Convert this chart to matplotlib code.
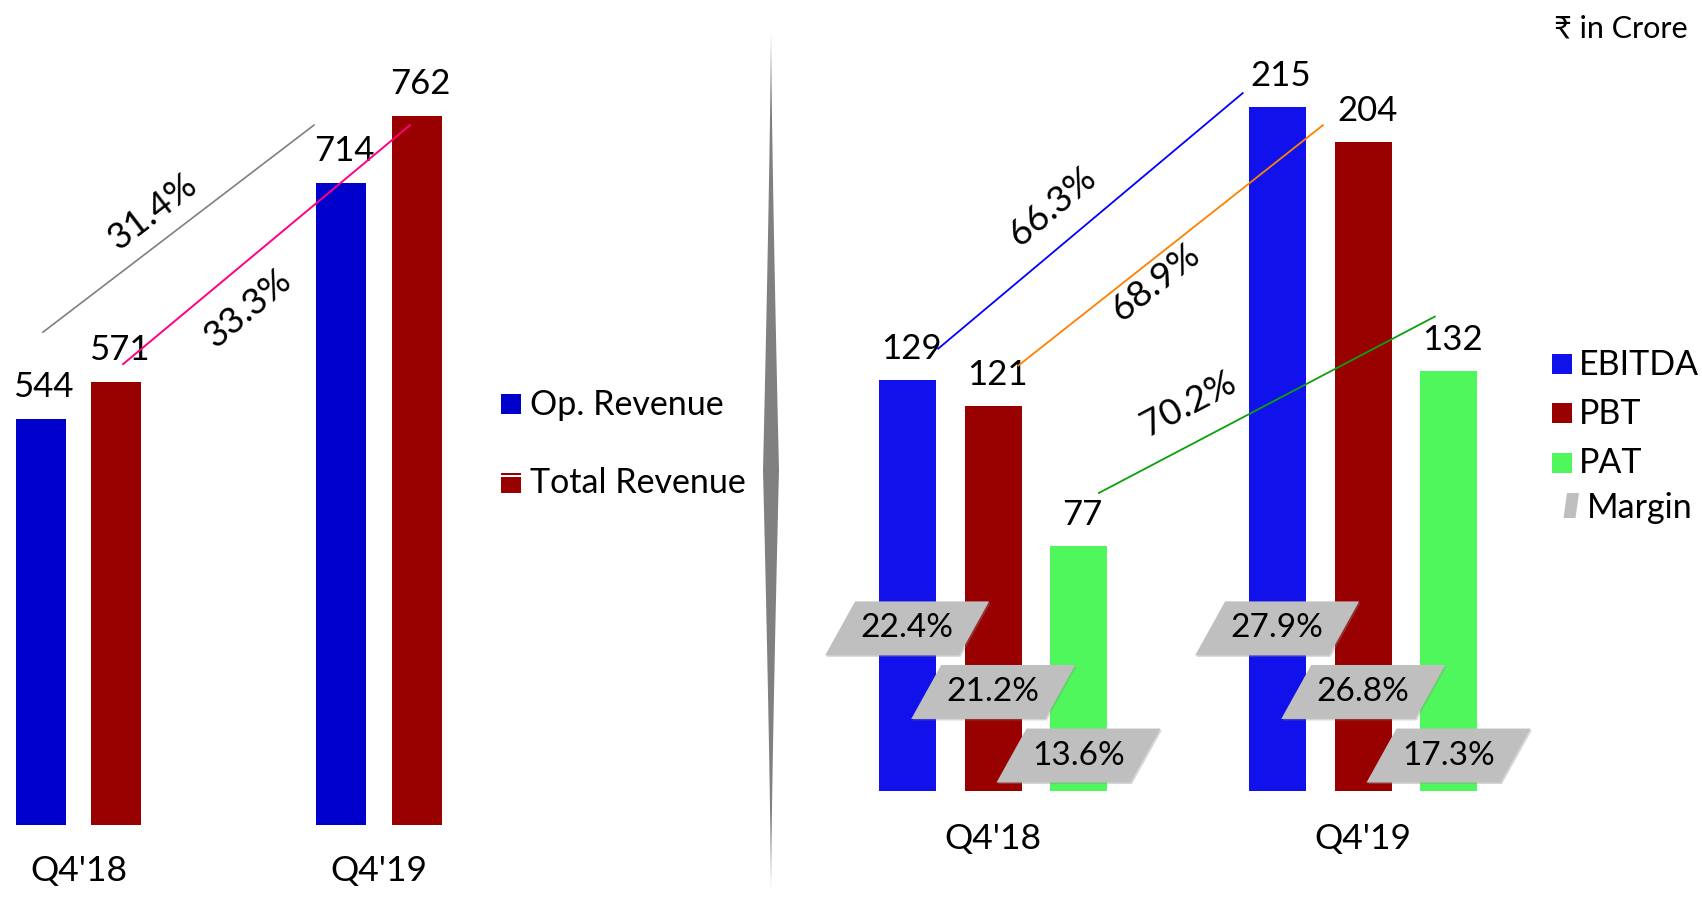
import numpy as np
import matplotlib
matplotlib.use('Agg')
import matplotlib.pyplot as plt
from matplotlib.patches import Polygon, Rectangle

W, H, DPI = 1702, 897, 100
plt.rcParams['font.family'] = ['Lato', 'DejaVu Sans']

# ---------------- data ----------------
periods = ["Q4'18", "Q4'19"]
op_revenue = [544, 714]
total_revenue = [571, 762]
revenue_growth = ["31.4%", "33.3%"]          # Op. Revenue, Total Revenue
ebitda = [129, 215]
pbt = [121, 204]
pat = [77, 132]
profit_growth = ["66.3%", "68.9%", "70.2%"]  # EBITDA, PBT, PAT
ebitda_margin = ["22.4%", "27.9%"]
pbt_margin = ["21.2%", "26.8%"]
pat_margin = ["13.6%", "17.3%"]
left_series = ["Op. Revenue", "Total Revenue"]
right_series = ["EBITDA", "PBT", "PAT", "Margin"]
unit_note = "\u20b9 in Crore"

# ---------------- styles ----------------
C_OP, C_TOT = '#0000CC', '#990000'
C_EB, C_PBT, C_PAT = '#1111EB', '#990000', '#50F75C'
C_MARGIN = '#BFBFBF'
FS_VAL, FS_TICK, FS_PCT, FS_MRG = 25, 25.5, 26.5, 24
FS_LEGL, FS_LEGR = 24.5, 24.5

fig = plt.figure(figsize=(W / DPI, H / DPI), dpi=DPI)


def px_axes(x0, x1, ytop, ybot):
    return fig.add_axes([x0 / W, 1 - ybot / H, (x1 - x0) / W, (ybot - ytop) / H])


def pt(px):
    return px * 72.0 / DPI


def fx(px):
    return px / W


def fy(py):
    return 1 - py / H


def disp_angle(ax, p0, p1):
    a = ax.transData.transform(p0)
    b = ax.transData.transform(p1)
    return np.degrees(np.arctan2(b[1] - a[1], b[0] - a[0]))


# ---------------- left chart ----------------
axL = px_axes(0, 470, 0, 825)
axL.set_xlim(-0.2612, 1.3028)
axL.set_ylim(251.9, 845.5)
axL.set_axis_off()
x = np.arange(len(periods))
lw, loff = 0.1664, 0.1264
axL.bar(x - loff, op_revenue, lw, color=C_OP, zorder=2)
axL.bar(x + loff, total_revenue, lw, color=C_TOT, zorder=2)
for xi, v in zip(x - loff, op_revenue):
    axL.annotate(str(v), (xi, v), xytext=(pt(3), pt(22)), textcoords='offset points',
                 ha='center', va='baseline', fontsize=FS_VAL, zorder=3)
for xi, v in zip(x + loff, total_revenue):
    axL.annotate(str(v), (xi, v), xytext=(pt(3), pt(22)), textcoords='offset points',
                 ha='center', va='baseline', fontsize=FS_VAL, zorder=3)
for xi, lab in zip(x, periods):
    axL.annotate(lab, (xi, 0), xycoords=('data', 'axes fraction'),
                 xytext=(0, -pt(56)), textcoords='offset points',
                 ha='center', va='baseline', fontsize=FS_TICK, annotation_clip=False)

# growth lines
g0 = (x[0] - loff + 0.008, op_revenue[0] + 62.5)
g1 = (x[1] - loff - 0.09, op_revenue[1] + 41.5)
p0 = (x[0] + loff + 0.022, total_revenue[0] + 12.5)
p1 = (x[1] + loff - 0.023, total_revenue[1] - 6.5)
axL.plot([g0[0], g1[0]], [g0[1], g1[1]], color='#808080', lw=1.2, zorder=4)
axL.plot([p0[0], p1[0]], [p0[1], p1[1]], color='#FF0080', lw=1.4, zorder=4)
axL.text(0.245, 693, revenue_growth[0], rotation=disp_angle(axL, g0, g1),
         rotation_mode='anchor', ha='center', va='center', fontsize=FS_PCT, zorder=5)
axL.text(0.564, 624, revenue_growth[1], rotation=disp_angle(axL, p0, p1),
         rotation_mode='anchor', ha='center', va='center', fontsize=FS_PCT, zorder=5)

# left legend
for (ytop, ybase, col, lab) in [(394, 415, C_OP, left_series[0]),
                                 (473, 493, C_TOT, left_series[1])]:
    fig.add_artist(Rectangle((fx(501), fy(ytop + 20)), 20 / W, 20 / H,
                             transform=fig.transFigure, color=col, lw=0))
    fig.text(fx(530), fy(ybase), lab, fontsize=FS_LEGL, ha='left', va='baseline')
fig.add_artist(Rectangle((fx(501), fy(476.5)), 20 / W, 1.5 / H,
                         transform=fig.transFigure, color='white', lw=0))

# ---------------- divider ----------------
ys = np.linspace(28, 893, 300)
mid = 470
t = np.where(ys < mid, (mid - ys) / (mid - 28), (ys - mid) / (893 - mid))
hw = 8 * (1 - t) ** 1.3
xs = np.concatenate([771 - hw, (771 + hw)[::-1]])
yy = np.concatenate([ys, ys[::-1]])
fig.add_artist(Polygon(np.column_stack([fx(xs), fy(yy)]), closed=True,
                       transform=fig.transFigure, color='#808080', lw=0))

# ---------------- right chart ----------------
axR = px_axes(790, 1540, 0, 790.5)
axR.set_xlim(-0.5492, 1.4778)
axR.set_ylim(0, 248.7)
axR.set_axis_off()
bw = 0.154
offs = [-0.2327, 0.0, 0.2305]
series = [(ebitda, C_EB), (pbt, C_PBT), (pat, C_PAT)]
for (vals, col), o in zip(series, offs):
    axR.bar(x + o, vals, bw, color=col, zorder=2)
    for xi, v in zip(x + o, vals):
        axR.annotate(str(v), (xi, v), xytext=(pt(4), pt(21)), textcoords='offset points',
                     ha='center', va='baseline', fontsize=FS_VAL, zorder=3)
for xi, lab in zip(x, periods):
    axR.annotate(lab, (xi, 0), xycoords=('data', 'axes fraction'),
                 xytext=(0, -pt(58)), textcoords='offset points',
                 ha='center', va='baseline', fontsize=FS_TICK, annotation_clip=False)

# growth lines
lines_r = [
    ((x[0] + offs[0] + 0.084, ebitda[0] + 10), (x[1] + offs[0] - 0.093, ebitda[1] + 4.4), '#0000FF'),
    ((x[0] + offs[1] + 0.068, pbt[0] + 12.7), (x[1] + offs[1] - 0.109, pbt[1] + 5.3), '#FF8000'),
    ((x[0] + offs[2] + 0.055, pat[0] + 16.6), (x[1] + offs[2] - 0.037, pat[1] + 17.1), '#0CA00C'),
]
txt_pos = [(0.160, 184.0), (0.440, 160.0), (0.528, 121.5)]
for (a, b, col), pos, lab in zip(lines_r, txt_pos, profit_growth):
    axR.plot([a[0], b[0]], [a[1], b[1]], color=col, lw=1.3, zorder=4)
    axR.text(pos[0], pos[1], lab, rotation=disp_angle(axR, a, b), rotation_mode='anchor',
             ha='center', va='center', fontsize=FS_PCT, zorder=5)

# margin labels (parallelograms)
pw, ph, sk = 134 / 370.0, 54 / 3.179, 30 / 370.0
levels = [51, 31, 11]
margins = [ebitda_margin, pbt_margin, pat_margin]
for o, lev, mlist in zip(offs, levels, margins):
    for xi, m in zip(x + o, mlist):
        verts = [(xi - pw / 2 - sk / 2, lev - ph / 2), (xi + pw / 2 - sk / 2, lev - ph / 2),
                 (xi + pw / 2 + sk / 2, lev + ph / 2), (xi - pw / 2 + sk / 2, lev + ph / 2)]
        sh = [(vx + 1.5 / 370, vy - 1.5 / 3.179) for vx, vy in verts]
        axR.add_patch(Polygon(sh, closed=True, color='#8c8c8c', alpha=0.35, lw=0, zorder=6))
        axR.add_patch(Polygon(verts, closed=True, color=C_MARGIN, lw=0, zorder=7))
        axR.text(xi, lev, m, ha='center', va='center', fontsize=FS_MRG, zorder=8)

# right legend
for (ytop, ybase, col, lab) in [(354, 375, C_EB, right_series[0]),
                                 (403, 424, C_PBT, right_series[1]),
                                 (453, 473, C_PAT, right_series[2])]:
    fig.add_artist(Rectangle((fx(1552), fy(ytop + 20)), 20 / W, 20 / H,
                             transform=fig.transFigure, color=col, lw=0))
    fig.text(fx(1579), fy(ybase), lab, fontsize=FS_LEGR, ha='left', va='baseline')
icon = [(1563.5, 518), (1575.5, 518), (1579, 493), (1567, 493)]
fig.add_artist(Polygon([(fx(a), fy(b)) for a, b in icon], closed=True,
                       transform=fig.transFigure, color=C_MARGIN, lw=0))
fig.text(fx(1587), fy(518), right_series[3], fontsize=FS_LEGR, ha='left', va='baseline')

# unit note
fig.text(fx(1688), fy(37), unit_note, fontsize=22, ha='right', va='baseline')

fig.savefig('out.png', dpi=DPI, facecolor='white')
